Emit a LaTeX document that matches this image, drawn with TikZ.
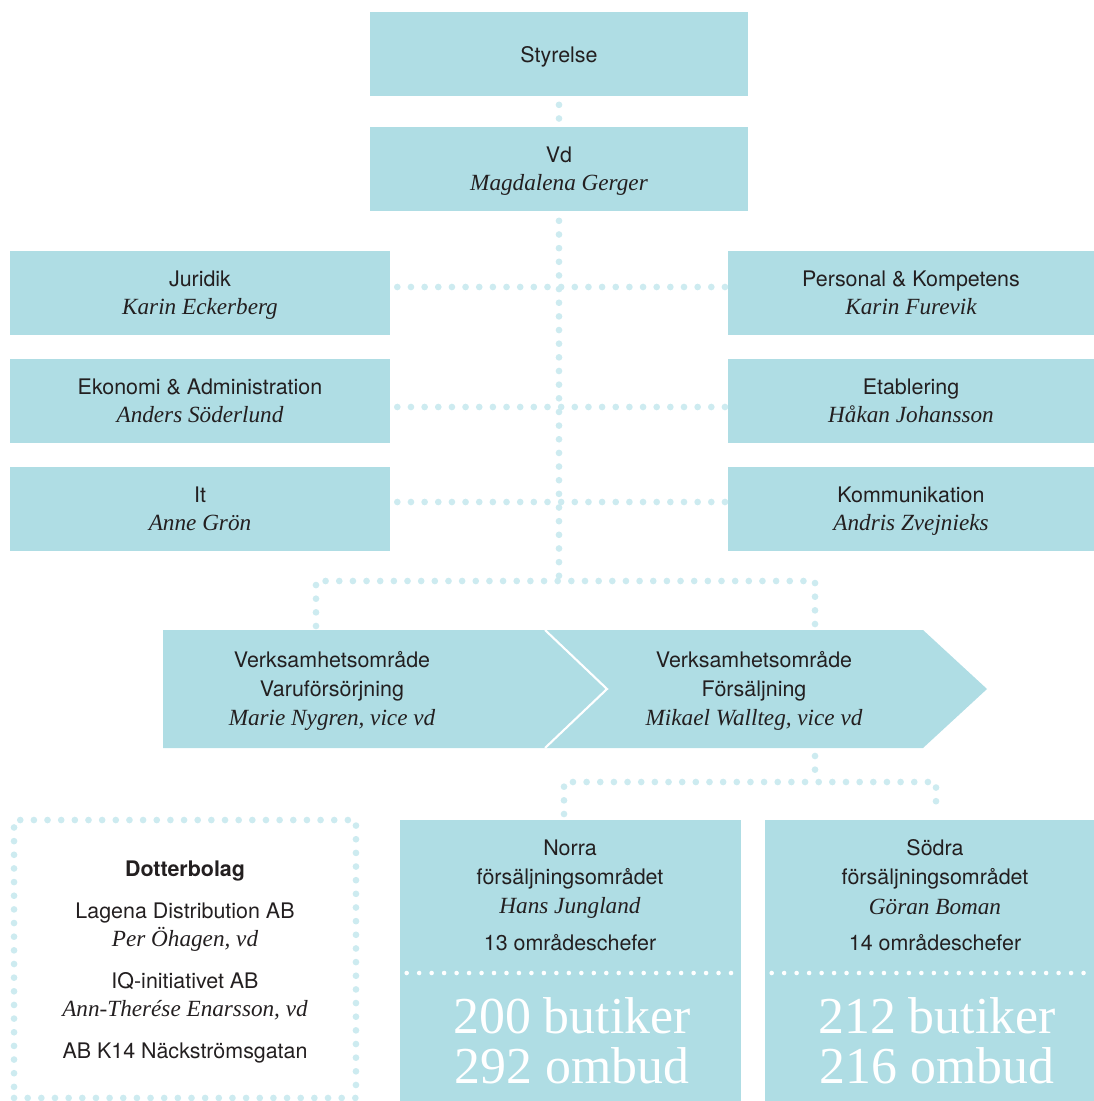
\documentclass[tikz,border=0pt]{standalone}
\usepackage{fontspec}
\setsansfont{TeX Gyre Heros}
\newfontfamily\namefont{Liberation Serif}
\usetikzlibrary{positioning}
\definecolor{boxblue}{HTML}{AFDDE4}
\definecolor{dotblue}{HTML}{CDEBF0}
\definecolor{inkgrey}{HTML}{231F20}
\newcommand{\pname}[1]{{\namefont\itshape\fontsize{13.2}{16}\selectfont #1}}

\begin{document}
\begin{tikzpicture}[x=0.02cm, y=-0.02cm,
    orgbox/.style={fill=boxblue, inner sep=0pt, minimum height=1.68cm, text=inkgrey, text depth=0pt,
      align=center, font=\sffamily\fontsize{12.2}{16}\selectfont},
    txt/.style={text=inkgrey, align=center, inner sep=0pt, font=\sffamily\fontsize{12.2}{16.7}\selectfont},
    bigtxt/.style={text=white, inner sep=0pt, font=\namefont\fontsize{29.5}{30}\selectfont},
    dotline/.style={draw=dotblue, line width=3.8pt, line cap=round, dash pattern=on 0pt off 7.77pt},
    whitedots/.style={draw=white, line width=2.6pt, line cap=round, dash pattern=on 0pt off 7.1pt}]
  \useasboundingbox (0,0) rectangle (1094,1101);

  % top of the chart
  \node[orgbox, minimum width=7.56cm] (styrelse) at (559,54) {Styrelse};
  \node[orgbox, minimum width=7.56cm] (vd) at (559,169) {Vd\\\pname{Magdalena Gerger}};

  % staff functions
  \node[orgbox, minimum width=7.6cm] (juridik) at (200,293) {Juridik\\\pname{Karin Eckerberg}};
  \node[orgbox, minimum width=7.6cm] (ekonomi) at (200,401) {Ekonomi \& Administration\\\pname{Anders Söderlund}};
  \node[orgbox, minimum width=7.6cm] (it) at (200,509) {It\\\pname{Anne Grön}};
  \node[orgbox, minimum width=7.32cm] (personal) at (911,293) {Personal \& Kompetens\\\pname{Karin Furevik}};
  \node[orgbox, minimum width=7.32cm] (etablering) at (911,401) {Etablering\\\pname{Håkan Johansson}};
  \node[orgbox, minimum width=7.32cm] (kommunikation) at (911,509) {Kommunikation\\\pname{Andris Zvejnieks}};

  % business areas
  \fill[boxblue] (163,630) -- (545,630) -- (607,689) -- (545,748) -- (163,748) -- cycle;
  \fill[boxblue] (545,630) -- (923,630) -- (987,689) -- (923,748) -- (545,748) -- (607,689) -- cycle;
  \draw[white, line width=1.2pt] (545,630) -- (607,689) -- (545,748);
  \node[txt] (vara) at (332,691) {Verksamhetsområde\\Varuförsörjning\\\pname{Marie Nygren, vice vd}};
  \node[txt] (forsalj) at (754,691) {Verksamhetsområde\\Försäljning\\\pname{Mikael Wallteg, vice vd}};

  % sales regions
  \node[fill=boxblue, inner sep=0pt, minimum width=6.82cm, minimum height=5.62cm] (norra) at (570.5,960.5) {};
  \node[fill=boxblue, inner sep=0pt, minimum width=6.58cm, minimum height=5.62cm] (sodra) at (929.5,960.5) {};
  \node[txt] (norratxt) at (570,895) {Norra\\försäljningsområdet\\\pname{Hans Jungland}\\[4pt]13 områdeschefer};
  \node[txt] (sodratxt) at (935,895) {Södra\\försäljningsområdet\\\pname{Göran Boman}\\[4pt]14 områdeschefer};
  \draw[whitedots] ([shift={(0.14cm,-0.25cm)}]norra.west) -- ([yshift=-0.25cm]norra.east);
  \draw[whitedots] ([shift={(0.14cm,-0.25cm)}]sodra.west) -- ([yshift=-0.25cm]sodra.east);
  \node[bigtxt, anchor=base] (norrabut) at (572,1033) {200 butiker};
  \node[bigtxt, anchor=base] (norraomb) at (572,1083) {292 ombud};
  \node[bigtxt, anchor=base] (sodrabut) at (937,1033) {212 butiker};
  \node[bigtxt, anchor=base] (sodraomb) at (937,1083) {216 ombud};

  % subsidiaries
  \node[dotline, inner sep=0pt, minimum width=6.84cm, minimum height=5.56cm] (dotter) at (185,959) {};
  \node[txt, font=\sffamily\fontsize{12.2}{16}\selectfont] (dottertxt) at (185,962)
    {\textbf{Dotterbolag}\\[8pt]Lagena Distribution AB\\\pname{Per Öhagen, vd}\\[8pt]IQ-initiativet AB\\\pname{Ann-Therése Enarsson, vd}\\[8pt]AB K14 Näckströmsgatan};

  % connectors
  \coordinate (split) at (559,581);
  \coordinate (varatop) at (316,626);
  \coordinate (forstop) at (815,626);
  \coordinate (forsbot) at (815,756);
  \coordinate (sydsplit) at (815,782);
  \coordinate (norratop) at (564,814);
  \coordinate (sodratop) at (936,814);
  \draw[dotline, shorten <=0.17cm, shorten >=0.15cm] (styrelse) -- (vd);
  \draw[dotline, shorten <=0.19cm] (vd) -- (split);
  \draw[dotline, shorten <=0.14cm] ([yshift=0.12cm]juridik.east) -- ([yshift=0.12cm]personal.west);
  \draw[dotline, shorten <=0.14cm] ([yshift=-0.12cm]ekonomi.east) -- ([yshift=-0.12cm]etablering.west);
  \draw[dotline, shorten <=0.14cm] ([yshift=0.14cm]it.east) -- ([yshift=0.14cm]kommunikation.west);
  \draw[dotline] (varatop) |- (split) -| (forstop);
  \draw[dotline] (forsbot) -- (sydsplit);
  \draw[dotline] (norratop) |- (sydsplit) -| (sodratop);
\end{tikzpicture}
\end{document}
